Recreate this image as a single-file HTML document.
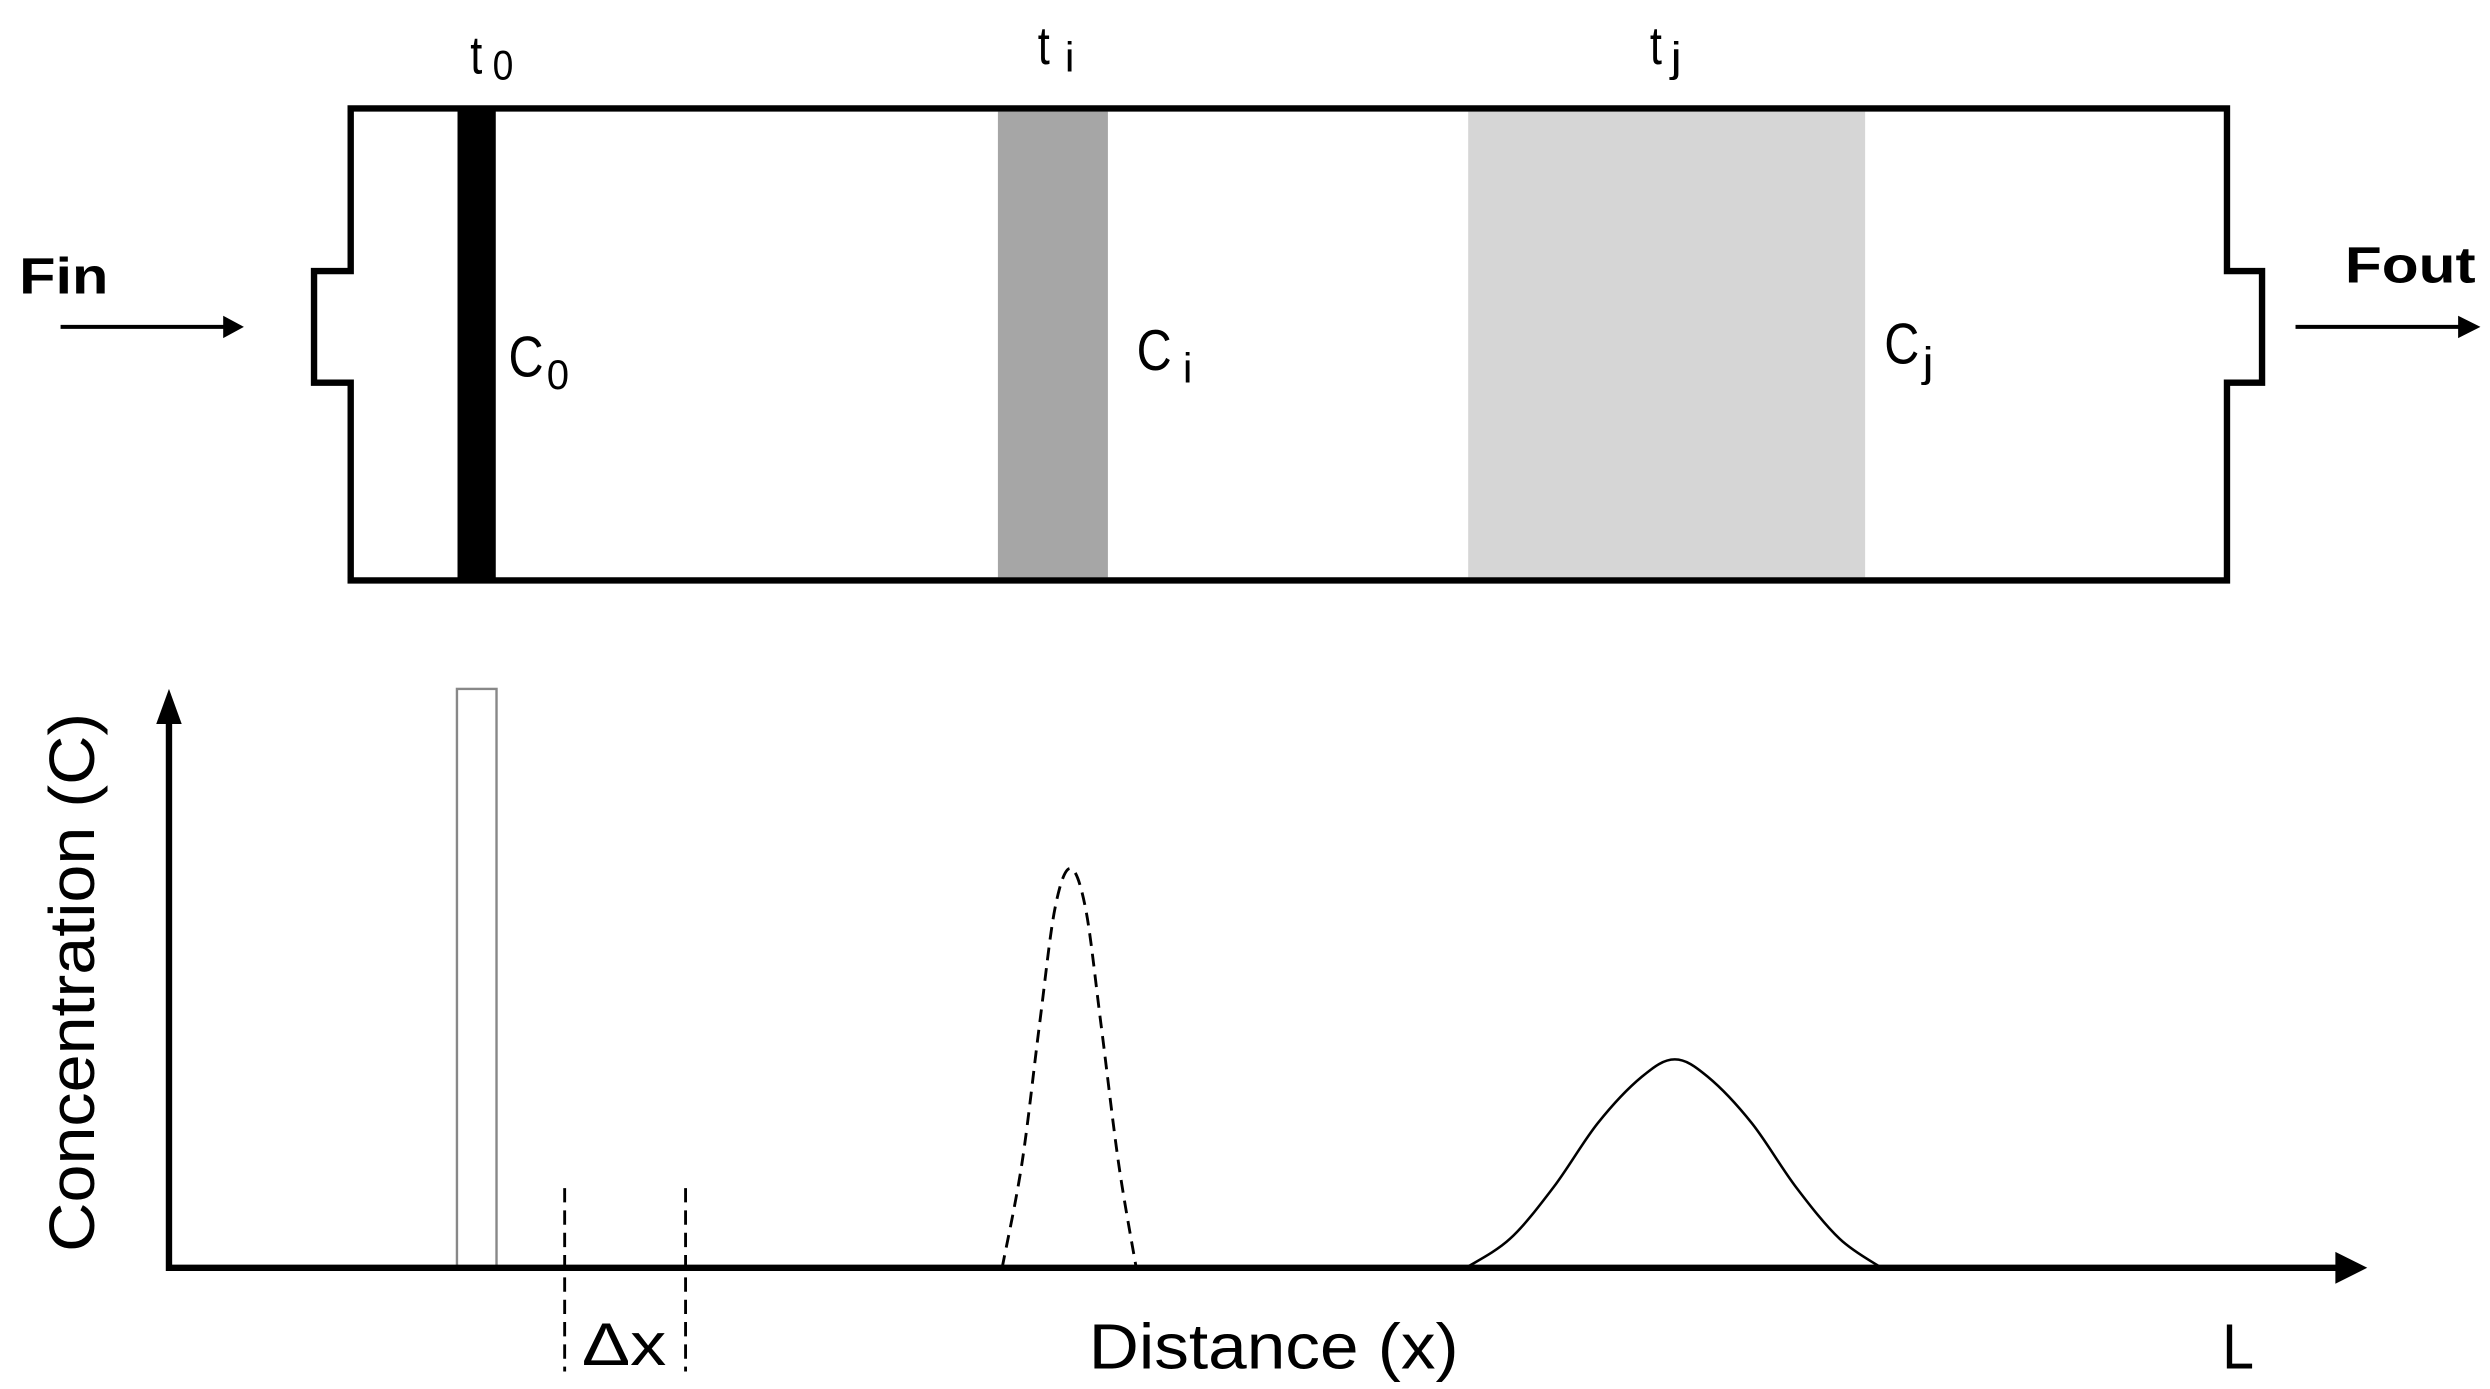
<!DOCTYPE html>
<html><head><meta charset="utf-8"><style>
html,body{margin:0;padding:0;background:#fff;}
svg{display:block;}
text{font-family:"Liberation Sans",sans-serif;fill:#000;}
</style></head><body>
<svg id="fig" width="2490" height="1389" viewBox="0 0 1562 871" preserveAspectRatio="none" xmlns="http://www.w3.org/2000/svg">
  <g>
    <rect x="287" y="68" width="24" height="296" fill="#000"/>
    <rect x="626" y="70" width="69" height="292" fill="#a6a6a6"/>
    <rect x="921" y="70" width="249" height="292" fill="#d6d6d6"/>
    <path d="M220,68 H1397 V170 H1419 V240 H1397 V364 H220 V240 H197 V170 H220 Z" fill="none" stroke="#000" stroke-width="4"/>
    <text x="295" y="46" font-size="34" transform="translate(295,0) scale(0.8,1) translate(-295,0)">t</text>
    <text x="309" y="50" font-size="26" textLength="13" lengthAdjust="spacingAndGlyphs">0</text>
    <text x="651" y="40" font-size="34" transform="translate(651,0) scale(0.8,1) translate(-651,0)">t</text>
    <text x="668" y="45" font-size="26" textLength="6" lengthAdjust="spacingAndGlyphs">i</text>
    <text x="1035" y="40" font-size="34" transform="translate(1035,0) scale(0.8,1) translate(-1035,0)">t</text>
    <text x="1048" y="45" font-size="26" textLength="7" lengthAdjust="spacingAndGlyphs">j</text>
    <text x="319" y="236" font-size="36" textLength="22" lengthAdjust="spacingAndGlyphs">C</text>
    <text x="343" y="244" font-size="26" textLength="14" lengthAdjust="spacingAndGlyphs">0</text>
    <text x="713" y="232" font-size="36" textLength="22" lengthAdjust="spacingAndGlyphs">C</text>
    <text x="742" y="240" font-size="26" textLength="6" lengthAdjust="spacingAndGlyphs">i</text>
    <text x="1182" y="228" font-size="36" textLength="22" lengthAdjust="spacingAndGlyphs">C</text>
    <text x="1206" y="236" font-size="26" textLength="7" lengthAdjust="spacingAndGlyphs">j</text>
    <text x="12" y="184" font-size="32" font-weight="bold" textLength="56" lengthAdjust="spacingAndGlyphs">Fin</text>
    <line x1="38" y1="205" x2="142" y2="205" stroke="#000" stroke-width="2.5"/>
    <polygon points="140,198 153,205 140,212" fill="#000"/>
    <text x="1471" y="177" font-size="32" font-weight="bold" textLength="82" lengthAdjust="spacingAndGlyphs">Fout</text>
    <line x1="1440" y1="205" x2="1545" y2="205" stroke="#000" stroke-width="2.5"/>
    <polygon points="1542,198 1556,205 1542,212" fill="#000"/>
  </g>
  <g id="plot"></g>
</svg>
<script>
// Data (distance in % of column length, concentration in % of pulse height)
const pulseX = [13.1, 14.9];
const pulseC = [100];
const peakIX = [37.9, 38.8, 39.6, 40.3, 41.0, 41.7, 42.4, 43.2, 44.0];
const peakIC = [0, 18, 42, 62, 69, 62, 42, 18, 0];
const peakJX = [59.0, 61.0, 63.0, 65.0, 67.0, 68.5, 70.0, 72.0, 74.0, 76.0, 77.9];
const peakJC = [0, 5, 14, 25, 33, 36, 33, 25, 14, 5, 0];
const dxMarks = [18.0, 23.5];

const NS = 'http://www.w3.org/2000/svg';
const plot = document.getElementById('plot');
const X0 = 106, X1 = 1485, Y0 = 795, Y1 = 432;
const sx = v => X0 + v / 100 * (X1 - X0);
const sy = v => Y0 - v / 100 * (Y0 - Y1);
function mk(tag, attrs, parent) {
  const e = document.createElementNS(NS, tag);
  for (const k in attrs) e.setAttribute(k, attrs[k]);
  (parent || plot).appendChild(e);
  return e;
}
function smooth(xs, ys) {
  const p = xs.map((x, i) => [sx(x), sy(ys[i])]);
  let d = 'M' + p[0][0] + ',' + p[0][1];
  for (let i = 0; i < p.length - 1; i++) {
    const a = p[Math.max(0, i - 1)], b = p[i], c = p[i + 1], e = p[Math.min(p.length - 1, i + 2)];
    const c1 = [b[0] + (c[0] - a[0]) / 6, b[1] + (c[1] - a[1]) / 6];
    const c2 = [c[0] - (e[0] - b[0]) / 6, c[1] - (e[1] - b[1]) / 6];
    d += ' C' + c1 + ' ' + c2 + ' ' + c;
  }
  return d;
}
const pulse = mk('rect', {x: sx(pulseX[0]), y: sy(pulseC[0]), width: sx(pulseX[1]) - sx(pulseX[0]), height: sy(0) - sy(pulseC[0]), fill: 'none', stroke: '#888', 'stroke-width': 1.5});


const pi = mk('path', {d: smooth(peakIX, peakIC), fill: 'none', stroke: '#000', 'stroke-width': 1.8, 'stroke-dasharray': '8,5'});


const pj = mk('path', {d: smooth(peakJX, peakJC), fill: 'none', stroke: '#000', 'stroke-width': 1.6});


dxMarks.forEach((v, i) => {
  const l = mk('line', {x1: sx(v), y1: 745, x2: sx(v), y2: 860, stroke: '#000', 'stroke-width': 1.8, 'stroke-dasharray': '9,5'});
  
  
});
const xa = mk('line', {x1: X0, y1: Y0, x2: X1 - 14, y2: Y0, stroke: '#000', 'stroke-width': 4});


const xh = mk('polygon', {points: (X1 - 20) + ',' + (Y0 - 10) + ' ' + X1 + ',' + Y0 + ' ' + (X1 - 20) + ',' + (Y0 + 10), fill: '#000'});


const ya = mk('line', {x1: X0, y1: Y0 + 2, x2: X0, y2: Y1 + 14, stroke: '#000', 'stroke-width': 4});


const yh = mk('polygon', {points: (X0 - 8) + ',' + (Y1 + 22) + ' ' + X0 + ',' + Y1 + ' ' + (X0 + 8) + ',' + (Y1 + 22), fill: '#000'});


function txt(s, attrs, name) {
  const t = mk('text', attrs);
  t.textContent = s;
  
  
  return t;
}
txt('Distance (x)', {x: 683, y: 858, 'font-size': 40, textLength: 232, lengthAdjust: 'spacingAndGlyphs'}, 'x-axis-title');
txt('L', {x: 1394, y: 858, 'font-size': 40, textLength: 20, lengthAdjust: 'spacingAndGlyphs'}, 'x-axis-end-label');
txt('Δx', {x: 365, y: 856, 'font-size': 38, textLength: 53, lengthAdjust: 'spacingAndGlyphs'}, 'delta-x-label');
txt('Concentration (C)', {x: 0, y: 0, 'font-size': 40, textLength: 338, lengthAdjust: 'spacingAndGlyphs', transform: 'translate(59,785) rotate(-90)'}, 'y-axis-title');
</script>
</body></html>
